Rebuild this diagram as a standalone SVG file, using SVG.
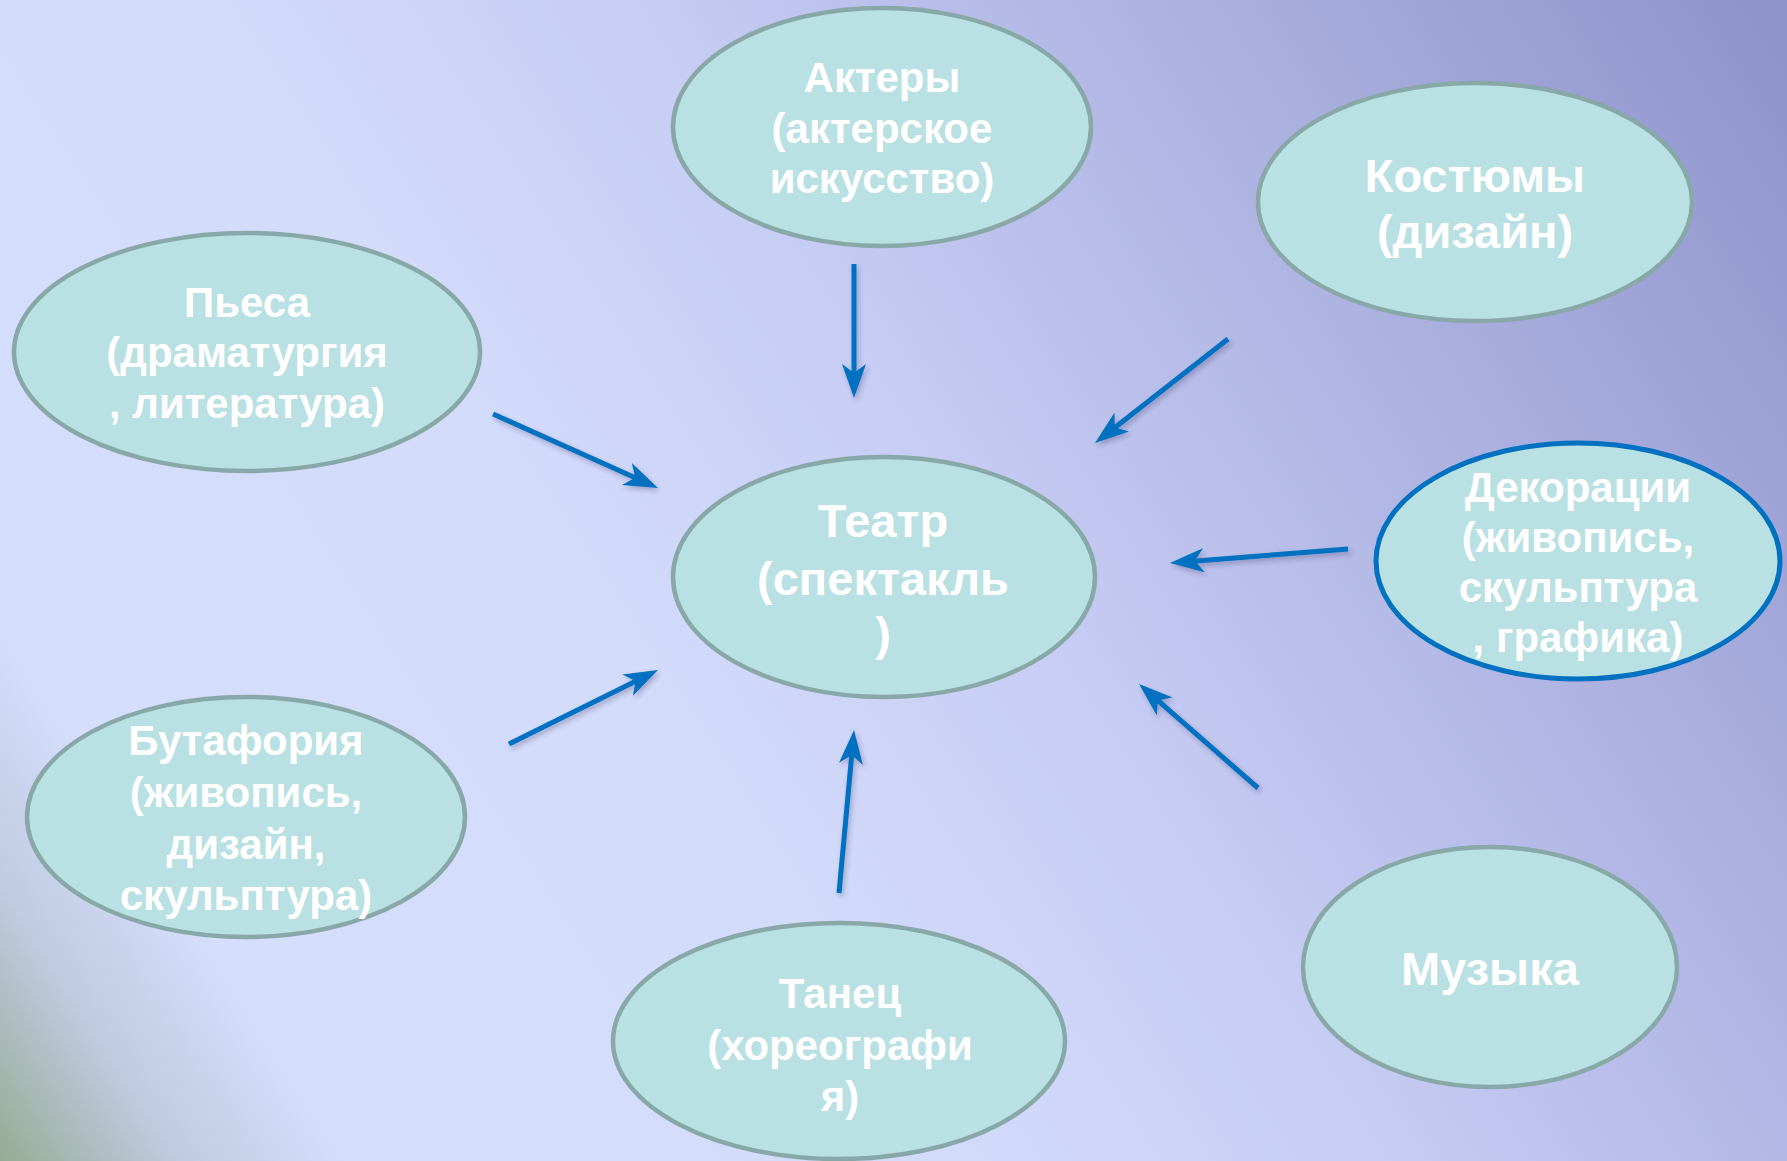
<svg xmlns="http://www.w3.org/2000/svg" width="1787" height="1161" viewBox="0 0 1787 1161">
  <defs>
    <linearGradient id="bg" gradientUnits="userSpaceOnUse" x1="1787" y1="0" x2="0" y2="1161">
      <stop offset="0" stop-color="#8D93CB"/>
      <stop offset="0.2" stop-color="#A7ACDD"/>
      <stop offset="0.45" stop-color="#C6CCF3"/>
      <stop offset="0.62" stop-color="#D3DBFB"/>
      <stop offset="0.86" stop-color="#D5DEFC"/>
      <stop offset="0.93" stop-color="#C0CAE0"/>
      <stop offset="1" stop-color="#94AC94"/>
    </linearGradient>
    <marker id="head" viewBox="0 0 34 24" refX="14" refY="12" markerWidth="34" markerHeight="24" markerUnits="userSpaceOnUse" orient="auto">
      <path d="M0,0 L34,12 L0,24 L9,12 Z" fill="#0070C0"/>
    </marker>
    <filter id="shadow" x="-20%" y="-20%" width="140%" height="140%">
      <feDropShadow dx="2" dy="3" stdDeviation="2.5" flood-color="#30305A" flood-opacity="0.3"/>
    </filter>
    <style>
      .node { fill: #B9E0E2; stroke: #88A8A8; stroke-width: 4.5; }
      .node.blue { stroke: #0070C0; stroke-width: 5; }
      .lbl { font-family: "Liberation Sans", Arial, sans-serif; font-weight: bold; fill: #FFFFFF; text-anchor: middle; font-size: 42px; }
      .big { font-size: 47px; }
      .conn { stroke: #0070C0; stroke-width: 5; fill: none; marker-end: url(#head); }
    </style>
  </defs>
  <rect x="0" y="0" width="1787" height="1161" fill="url(#bg)"/>

  <g id="connectors" filter="url(#shadow)">
    <line class="conn" x1="854" y1="264" x2="854" y2="378"/>
    <line class="conn" x1="493" y1="414" x2="639.7" y2="479.8"/>
    <line class="conn" x1="509" y1="744" x2="640.1" y2="678.9"/>
    <line class="conn" x1="839" y1="893" x2="852.2" y2="749.9"/>
    <line class="conn" x1="1258" y1="788" x2="1154.1" y2="697.2"/>
    <line class="conn" x1="1348" y1="549" x2="1189.9" y2="561.4"/>
    <line class="conn" x1="1228" y1="339" x2="1110.8" y2="430.7"/>
  </g>

  <g id="actors">
    <ellipse class="node" cx="882" cy="127" rx="209" ry="119"/>
    <text class="lbl" x="882" y="92">Актеры</text>
    <text class="lbl" x="882" y="143">(актерское</text>
    <text class="lbl" x="882" y="193">искусство)</text>
  </g>

  <g id="costumes">
    <ellipse class="node" cx="1475" cy="202" rx="217" ry="119"/>
    <text class="lbl big" x="1475" y="192">Костюмы</text>
    <text class="lbl big" x="1475" y="248">(дизайн)</text>
  </g>

  <g id="play">
    <ellipse class="node" cx="247" cy="352" rx="233" ry="119"/>
    <text class="lbl" x="247" y="317">Пьеса</text>
    <text class="lbl" x="247" y="367">(драматургия</text>
    <text class="lbl" x="247" y="418">, литература)</text>
  </g>

  <g id="theatre">
    <ellipse class="node" cx="884" cy="577" rx="211" ry="120"/>
    <text class="lbl big" x="883" y="537">Театр</text>
    <text class="lbl big" x="883" y="595">(спектакль</text>
    <text class="lbl big" x="883" y="650">)</text>
  </g>

  <g id="decorations">
    <ellipse class="node blue" cx="1578" cy="561" rx="202" ry="118"/>
    <text class="lbl" x="1578" y="502">Декорации</text>
    <text class="lbl" x="1578" y="552">(живопись,</text>
    <text class="lbl" x="1578" y="602">скульптура</text>
    <text class="lbl" x="1578" y="652">, графика)</text>
  </g>

  <g id="props">
    <ellipse class="node" cx="246" cy="817" rx="219" ry="120"/>
    <text class="lbl" x="246" y="755">Бутафория</text>
    <text class="lbl" x="246" y="807">(живопись,</text>
    <text class="lbl" x="246" y="859">дизайн,</text>
    <text class="lbl" x="246" y="910">скульптура)</text>
  </g>

  <g id="dance">
    <ellipse class="node" cx="839" cy="1041" rx="226" ry="118"/>
    <text class="lbl" x="840" y="1008">Танец</text>
    <text class="lbl" x="840" y="1060">(хореографи</text>
    <text class="lbl" x="840" y="1111">я)</text>
  </g>

  <g id="music">
    <ellipse class="node" cx="1490" cy="967" rx="187" ry="120"/>
    <text class="lbl big" x="1490" y="985">Музыка</text>
  </g>
</svg>
